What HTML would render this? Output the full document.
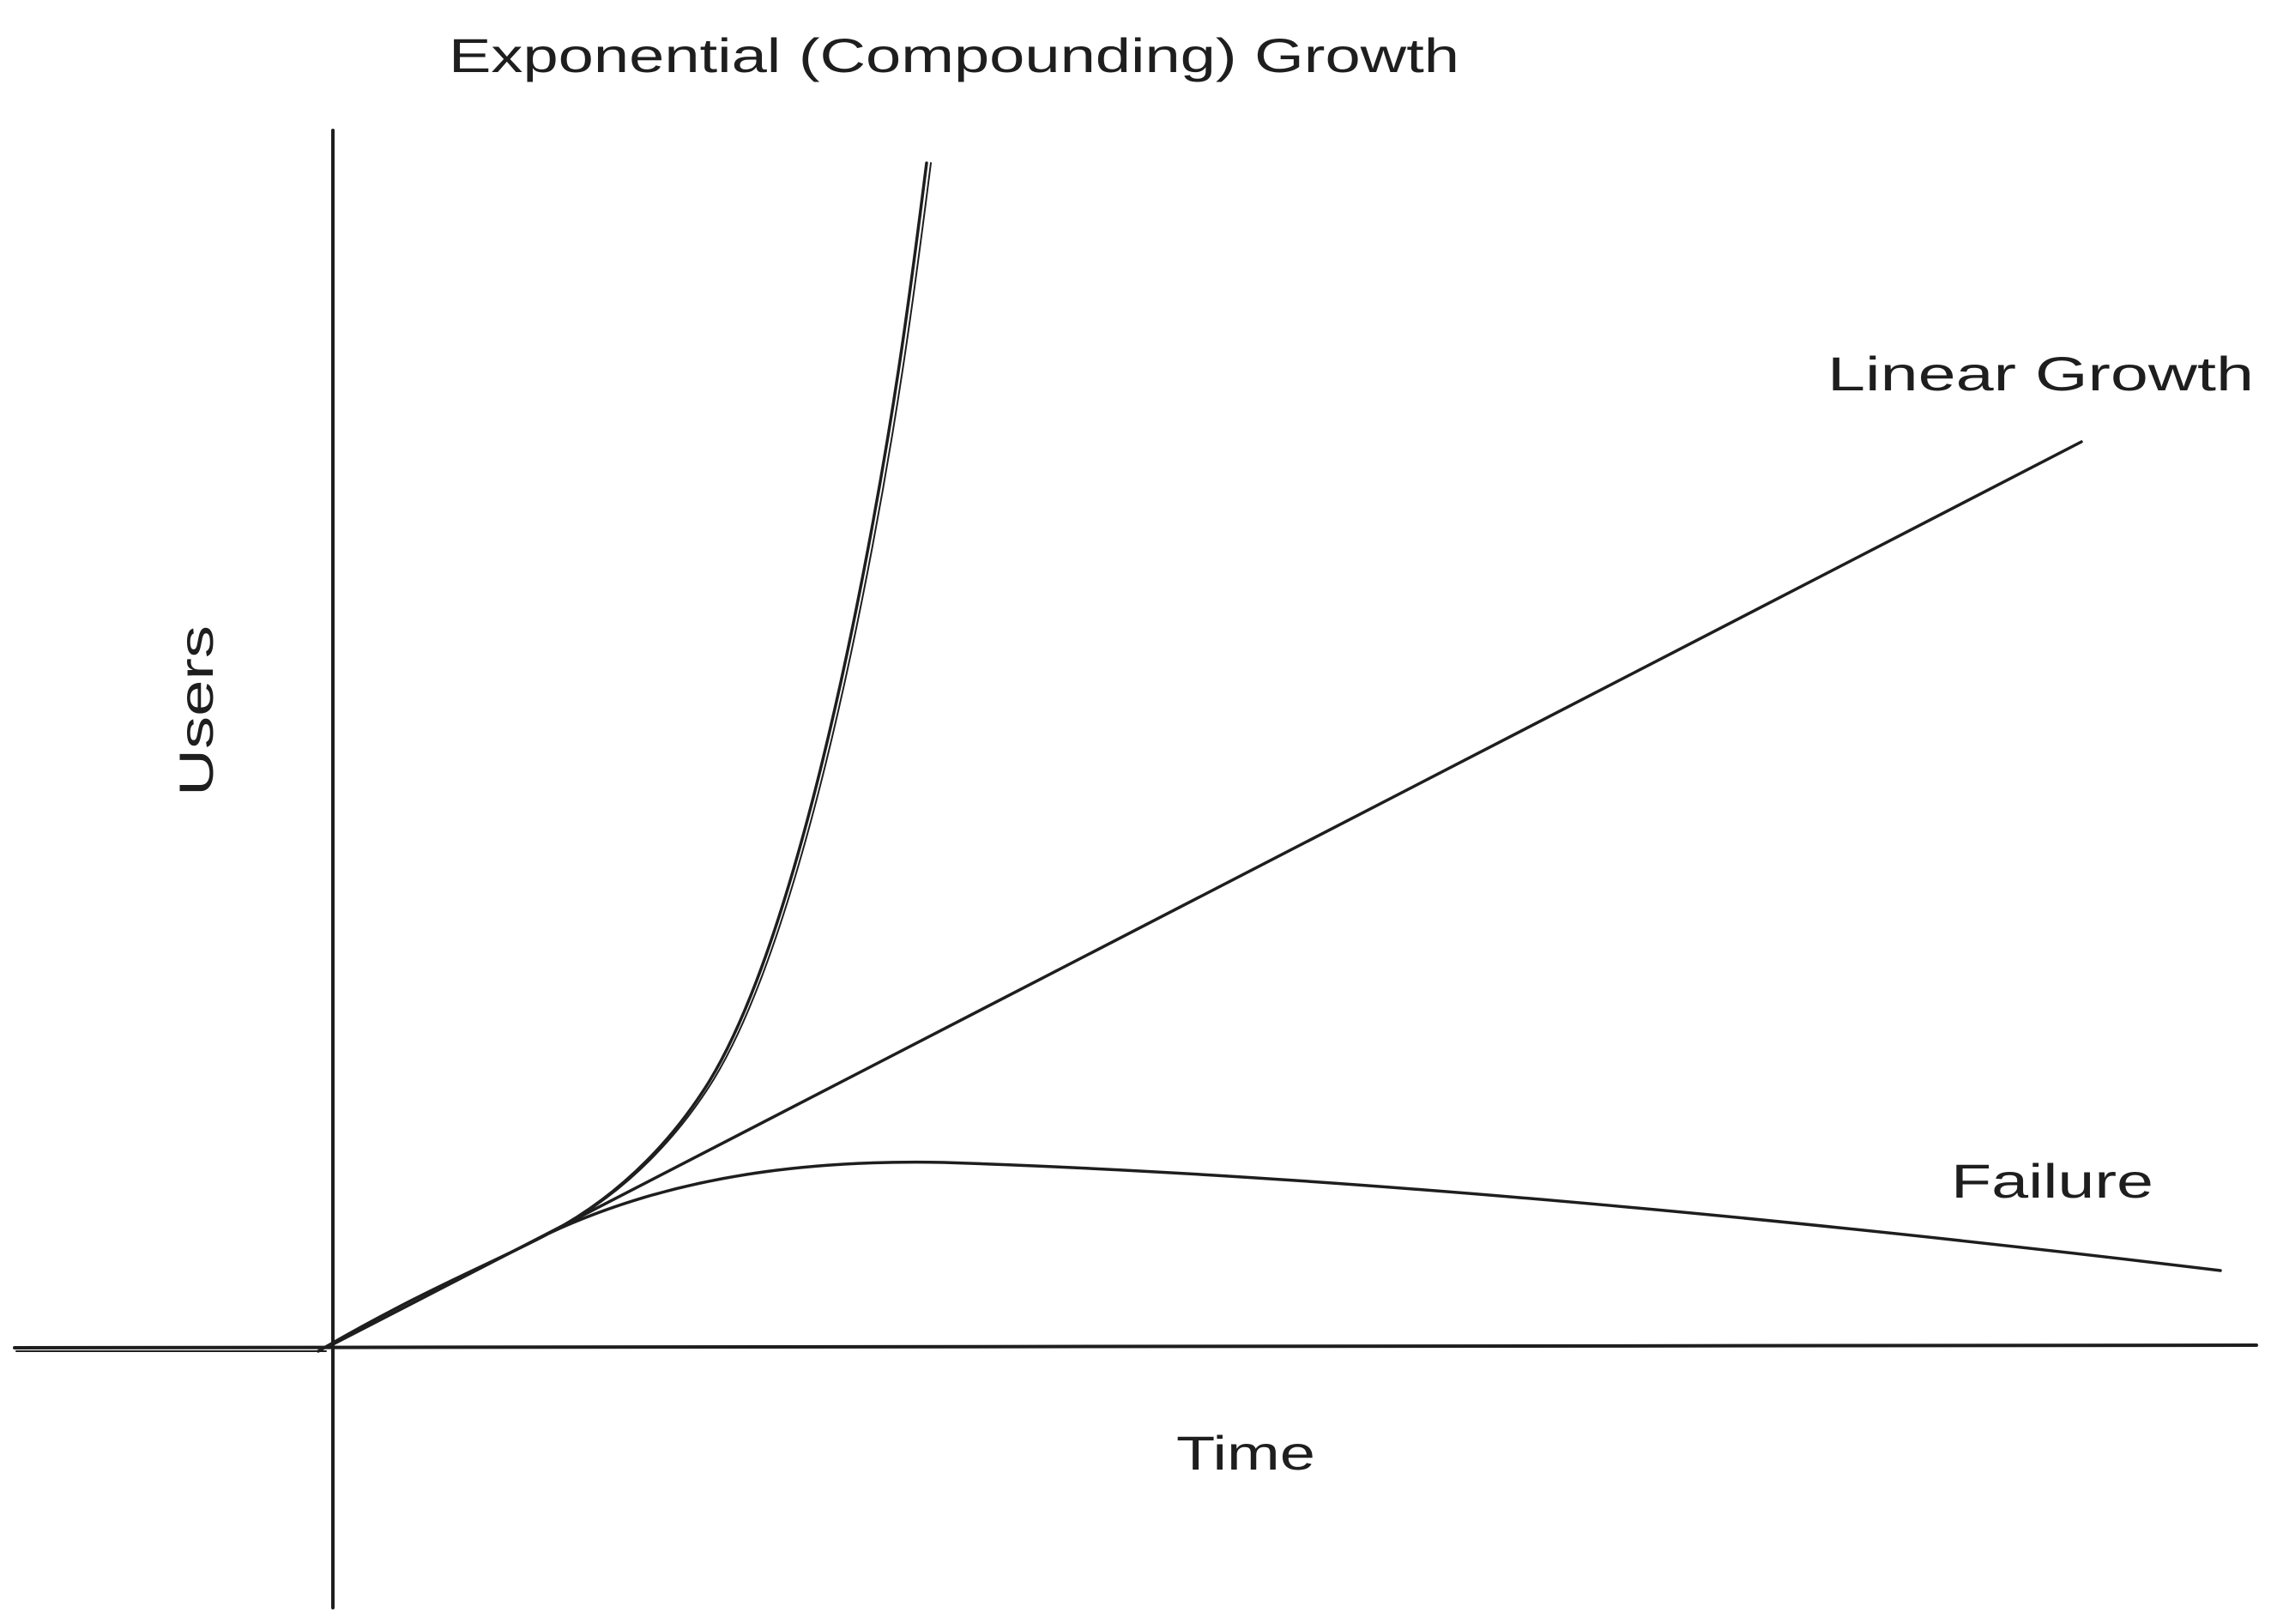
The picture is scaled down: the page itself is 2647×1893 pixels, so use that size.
<!DOCTYPE html>
<html><head><meta charset="utf-8"><style>html,body{margin:0;padding:0;background:#fff}svg{display:block}</style></head>
<body>
<svg width="2647" height="1893" viewBox="0 0 2647 1893" xmlns="http://www.w3.org/2000/svg">
<rect width="2647" height="1893" fill="#fff"/>
<g fill="none" stroke="#1e1e1e" stroke-linecap="round">
<path d="M388 152 L388 1874" stroke-width="4"/>
<path d="M17 1571 L2630 1568" stroke-width="4"/>
<path d="M19 1575 L380 1575" stroke-width="2"/>
<path d="M388 1567 L2426 515" stroke-width="3.5"/>
<path d="M371 1575 C 500 1500, 580 1470, 641 1437 C 730 1390, 790 1320, 827 1260 C 900 1140, 960 900, 1000 700 C 1040 500, 1060 350, 1080 190" stroke-width="3.5"/>
<path d="M376 1573 C 505 1498, 585 1468, 646 1435 C 735 1388, 795 1318, 832 1258 C 905 1138, 965 898, 1005 698 C 1045 498, 1065 348, 1085 190" stroke-width="2"/>
<path d="M641 1437 C 790 1368, 950 1352, 1100 1355 C 1500 1368, 2000 1410, 2588 1481" stroke-width="3.5"/>
</g>
<g font-family="Liberation Sans, sans-serif" fill="#1e1e1e" font-size="56">
<text x="523" y="84" textLength="1178" lengthAdjust="spacingAndGlyphs">Exponential (Compounding) Growth</text>
<text x="2130" y="455" textLength="497" lengthAdjust="spacingAndGlyphs">Linear Growth</text>
<text x="2274" y="1396" textLength="236" lengthAdjust="spacingAndGlyphs">Failure</text>
<text x="1371" y="1713" textLength="162" lengthAdjust="spacingAndGlyphs">Time</text>
<text transform="translate(248,928) rotate(-90)" x="0" y="0" textLength="199" lengthAdjust="spacingAndGlyphs">Users</text>
</g>
</svg>
</body></html>
